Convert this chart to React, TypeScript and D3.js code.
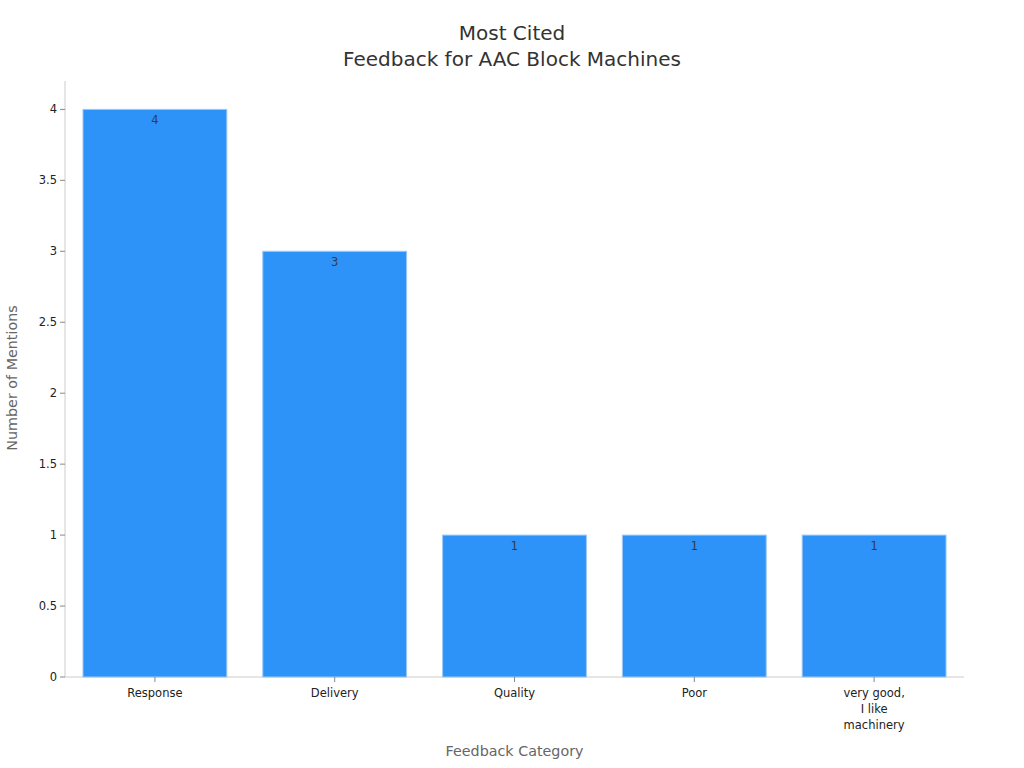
import React from "react";
import * as d3 from "d3";

const categories: string[][] = [["Response"], ["Delivery"], ["Quality"], ["Poor"], ["very good,", "I like", "machinery"]];
const values: number[] = [4, 3, 1, 1, 1];
const yTicks: number[] = [0, 0.5, 1, 1.5, 2, 2.5, 3, 3.5, 4];
const titleLines: string[] = ["Most Cited", "Feedback for AAC Block Machines"];

const W = 1024, H = 768;
const left = 65, right = 964, top = 81, bottom = 677;
const font = "DejaVu Sans, sans-serif";

export default function App() {
  const keys = categories.map((c) => c.join(" "));
  const x = d3.scaleBand<string>().domain(keys).range([left, right]).paddingInner(0.2).paddingOuter(0.1);
  const y = d3.scaleLinear().domain([0, 4.2]).range([bottom, top]);
  return (
    <svg width={W} height={H} style={{ position: "absolute", left: 0, top: 0 }} fontFamily={font}>
      <rect width={W} height={H} fill="#fff" />
      {titleLines.map((t, i) => (
        <text key={i} x={512} y={40 + i * 26} textAnchor="middle" fontSize={20} fill="#333">{t}</text>
      ))}
      <line x1={left} x2={left} y1={top} y2={bottom} stroke="#ccc" />
      <line x1={left} x2={right} y1={bottom} y2={bottom} stroke="#ccc" />
      {yTicks.map((t) => (
        <g key={t}>
          <line x1={left - 5} x2={left} y1={y(t)} y2={y(t)} stroke="#888" />
          <text x={left - 8} y={y(t)} dy="0.35em" textAnchor="end" fontSize={11.5} fill="#222">{t}</text>
        </g>
      ))}
      {values.map((v, i) => {
        const k = keys[i];
        const bx = x(k)!;
        const bw = x.bandwidth();
        return (
          <g key={k}>
            <rect x={bx} y={y(v)} width={bw} height={bottom - y(v)} fill="#2E93F8" stroke="#9cc8f5" strokeWidth={1} />
            <text x={bx + bw / 2} y={y(v) + 15} textAnchor="middle" fontSize={11.5} fill="#2f3b4a">{v}</text>
          </g>
        );
      })}
      {categories.map((c, i) => {
        const k = keys[i];
        const cx = x(k)! + x.bandwidth() / 2;
        return (
          <g key={k}>
            <line x1={cx} x2={cx} y1={bottom} y2={bottom + 5} stroke="#888" />
            {c.map((line, j) => (
              <text key={j} x={cx} y={bottom + 20 + j * 16} textAnchor="middle" fontSize={11.5} fill="#222">{line}</text>
            ))}
          </g>
        );
      })}
      <text x={(left + right) / 2} y={756} textAnchor="middle" fontSize={14.3} fill="#666">Feedback Category</text>
      <text transform={`translate(17,${378}) rotate(-90)`} textAnchor="middle" fontSize={14.3} fill="#666">Number of Mentions</text>
    </svg>
  );
}
